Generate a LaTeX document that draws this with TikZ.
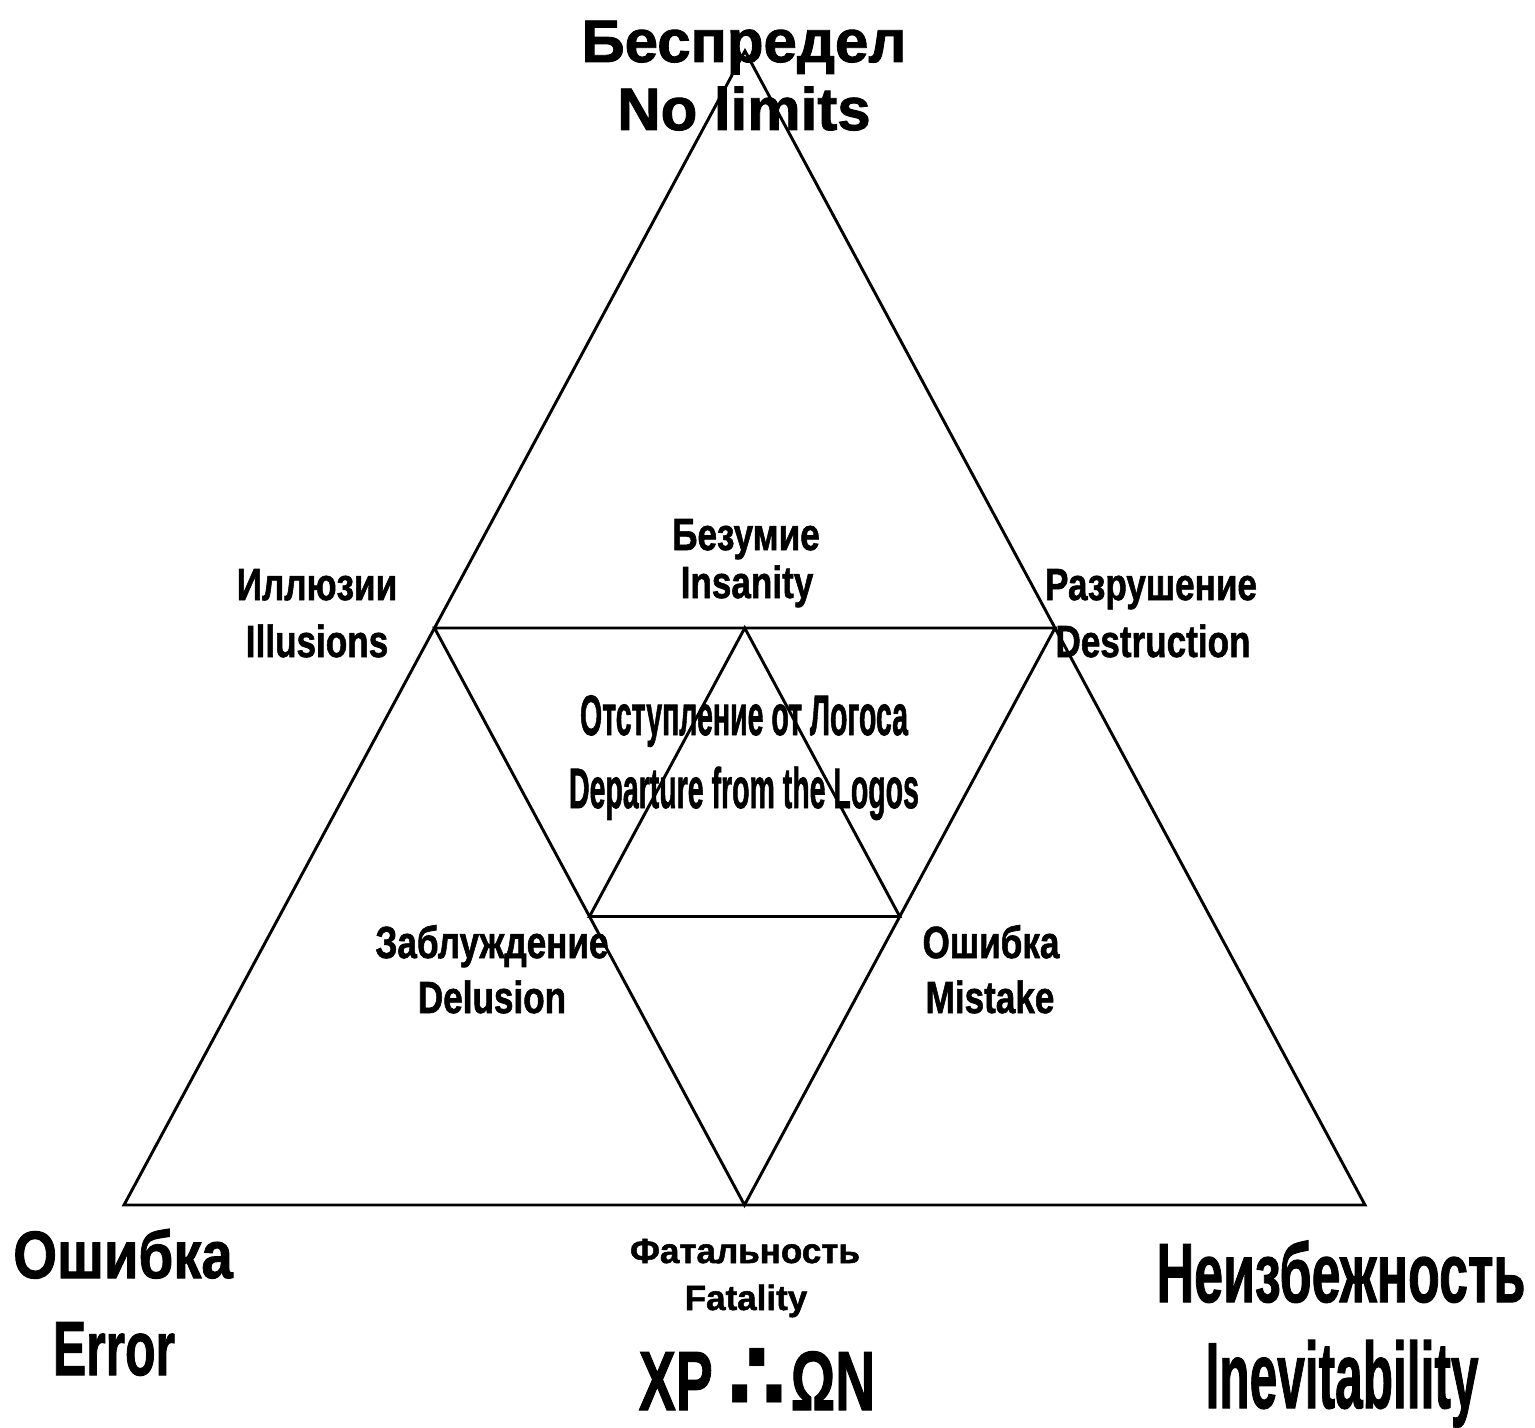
\documentclass[tikz,border=0pt]{standalone}
\usepackage{graphicx}
\usepackage{fontspec}
\setmainfont{Liberation Sans}[BoldFeatures={FakeBold=1.5}]
\newfontfamily\symbfont{DejaVu Sans}
\usetikzlibrary{calc}

\begin{document}
\begin{tikzpicture}[
  x=0.5pt, y=-0.5pt,
  edge/.style={line width=1.45pt, line join=miter},
  head/.style={font=\bfseries\fontsize{30}{36}\selectfont, anchor=base},
  side/.style={font=\bfseries\fontsize{22.5}{27}\selectfont, anchor=base, xscale=0.78},
  core/.style={font=\bfseries\fontsize{28.5}{34}\selectfont, anchor=base, xscale=0.5},
  foot/.style={font=\bfseries\fontsize{17.5}{21}\selectfont, anchor=base},
  corner/.style={anchor=base},
]
\useasboundingbox (0,0) rectangle (1535,1428);

% outer triangle and its midpoints
\coordinate (top) at (745,51);
\coordinate (left) at (124,1205);
\coordinate (right) at (1365,1205);
\coordinate (ml) at ($(top)!0.5!(left)$);
\coordinate (mr) at ($(top)!0.5!(right)$);
\coordinate (mb) at ($(left)!0.5!(right)$);
\coordinate (il) at ($(ml)!0.5!(mb)$);
\coordinate (ir) at ($(mr)!0.5!(mb)$);
\coordinate (it) at ($(ml)!0.5!(mr)$);

\draw[edge] (top) -- (left) -- (right) -- cycle;
\draw[edge] (ml) -- (mr) -- (mb) -- cycle;
\draw[edge] (it) -- (il) -- (ir) -- cycle;

% labels
\node[head] (lim1) at (744,62) {Беспредел};
\node[head] (lim2) at (744,130) {No limits};
\node[side] (ins1) at (746,550) {Безумие};
\node[side] (ins2) at (747,598) {Insanity};
\node[side] (ill1) at (317,600) {Иллюзии};
\node[side] (ill2) at (317,657) {Illusions};
\node[side] (des1) at (1151,600) {Разрушение};
\node[side] (des2) at (1153,657) {Destruction};
\node[core] (log1) at (744,735) {Отступление от Логоса};
\node[core] (log2) at (744,808) {Departure from the Logos};
\node[side] (del1) at (492,958) {Заблуждение};
\node[side] (del2) at (492,1013) {Delusion};
\node[side] (mis1) at (991,958) {Ошибка};
\node[side] (mis2) at (990,1013) {Mistake};

% corners
\node[corner, font=\bfseries\fontsize{33.5}{40}\selectfont, xscale=0.84] (err1) at (123,1278) {Ошибка};
\node[corner, font=\bfseries\fontsize{38.4}{46}\selectfont, xscale=0.65] (err2) at (114,1375) {Error};
\node[foot] (fat1) at (745,1263) {Фатальность};
\node[foot] (fat2) at (746,1310) {Fatality};
\node[corner, font=\bfseries\fontsize{42}{50}\selectfont, xscale=0.66] (sig) at (757,1410)
  {XP\hspace{11pt}{\symbfont\fontsize{48}{48}\selectfont\scalebox{1.35}[1]{∴}}\hspace{3pt}ΩN};
\node[corner, font=\bfseries\fontsize{41.9}{50}\selectfont, xscale=0.62] (inv1) at (1341,1302) {Неизбежность};
\node[corner, font=\bfseries\fontsize{46.8}{56}\selectfont, xscale=0.53] (inv2) at (1342,1408) {Inevitability};
\end{tikzpicture}
\end{document}
